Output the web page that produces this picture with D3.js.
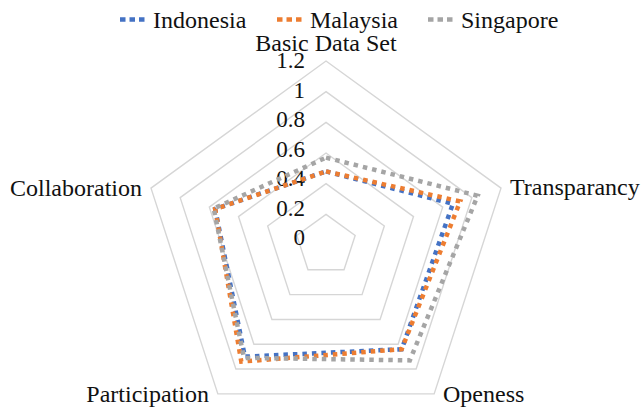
<!DOCTYPE html>
<html>
<head>
<meta charset="utf-8">
<script src="https://cdn.jsdelivr.net/npm/d3@7"></script>
<style>
  html, body { margin: 0; padding: 0; background: #fff; }
</style>
</head>
<body>
<svg id="chart" width="643" height="409" font-family="'Liberation Serif', 'Times New Roman', serif"></svg>
<script>
// Radar chart: open-data dimensions for three countries
const axes = ["Basic Data Set", "Transparancy", "Openess", "Participation", "Collaboration"];
const seriesNames = ["Indonesia", "Malaysia", "Singapore"];
const indonesia = [0.48, 0.87, 0.84, 0.90, 0.76];
const malaysia  = [0.48, 0.92, 0.84, 0.94, 0.76];
const singapore = [0.57, 1.04, 0.93, 0.91, 0.77];
const tickValues = [0, 0.2, 0.4, 0.6, 0.8, 1, 1.2];
const colors = ["#4472C4", "#ED7D31", "#A5A5A5"];

const series = [indonesia, malaysia, singapore];
const FONT = "'Liberation Serif', 'Times New Roman', serif";

const svg = d3.select("#chart");
const cx = 326, cy = 245, radius = 184;

const r = d3.scaleLinear().domain([0, 1.2]).range([0, radius]);
// tick labels sit in a slightly tighter column than the rings
const labelY = d3.scaleLinear().domain([0, 1.2]).range([cy - 7, 61]);
const angle = d3.scalePoint().domain(axes.concat(["_end"])).range([0, 2 * Math.PI]);

const pt = (axis, v) => {
  const a = angle(axis);
  return [cx + r(v) * Math.sin(a), cy - r(v) * Math.cos(a)];
};

// Grid pentagons
const ring = d3.line().curve(d3.curveLinearClosed);
svg.append("g").selectAll("path")
  .data(tickValues.filter(t => t > 0))
  .join("path")
  .attr("d", t => ring(axes.map(a => pt(a, t))))
  .attr("fill", "none")
  .attr("stroke", "#d6d6d6")
  .attr("stroke-width", 1.4);

// Tick labels on the vertical axis
svg.append("g").selectAll("text")
  .data(tickValues)
  .join("text")
  .attr("x", cx - 21)
  .attr("y", t => labelY(t))
  .attr("dy", "0.32em")
  .attr("text-anchor", "end")
  .attr("font-family", FONT)
  .attr("font-size", 23)
  .attr("fill", "#111")
  .text(t => d3.format("~g")(t));

// Series outlines
svg.append("g").selectAll("path")
  .data(series)
  .join("path")
  .attr("d", vals => ring(axes.map((a, i) => pt(a, vals[i]))))
  .attr("fill", "none")
  .attr("stroke", (d, i) => colors[i])
  .attr("stroke-width", 4.5)
  .attr("stroke-dasharray", "4.5 5")
  .attr("stroke-linejoin", "miter");

// Axis labels
const labelPos = {
  "Basic Data Set": { x: 326, y: 51, anchor: "middle" },
  "Transparancy":   { x: 510, y: 195, anchor: "start" },
  "Openess":        { x: 443, y: 402, anchor: "start" },
  "Participation":  { x: 209, y: 402, anchor: "end" },
  "Collaboration":  { x: 142, y: 196, anchor: "end" }
};
svg.append("g").selectAll("text")
  .data(axes)
  .join("text")
  .attr("x", d => labelPos[d].x)
  .attr("y", d => labelPos[d].y)
  .attr("text-anchor", d => labelPos[d].anchor)
  .attr("font-family", FONT)
  .attr("font-size", 24)
  .attr("fill", "#111")
  .text(d => d);

// Legend
const legendX = [120, 277, 428];
const legend = svg.append("g").selectAll("g")
  .data(seriesNames)
  .join("g")
  .attr("transform", (d, i) => `translate(${legendX[i]},0)`);
legend.append("line")
  .attr("x1", 0).attr("x2", 28)
  .attr("y1", 19.5).attr("y2", 19.5)
  .attr("stroke", (d, i) => colors[i])
  .attr("stroke-width", 4.5)
  .attr("stroke-dasharray", "5.5 4");
legend.append("text")
  .attr("x", 33)
  .attr("y", 27.5)
  .attr("font-family", FONT)
  .attr("font-size", 24)
  .attr("fill", "#111")
  .text(d => d);
</script>
</body>
</html>
